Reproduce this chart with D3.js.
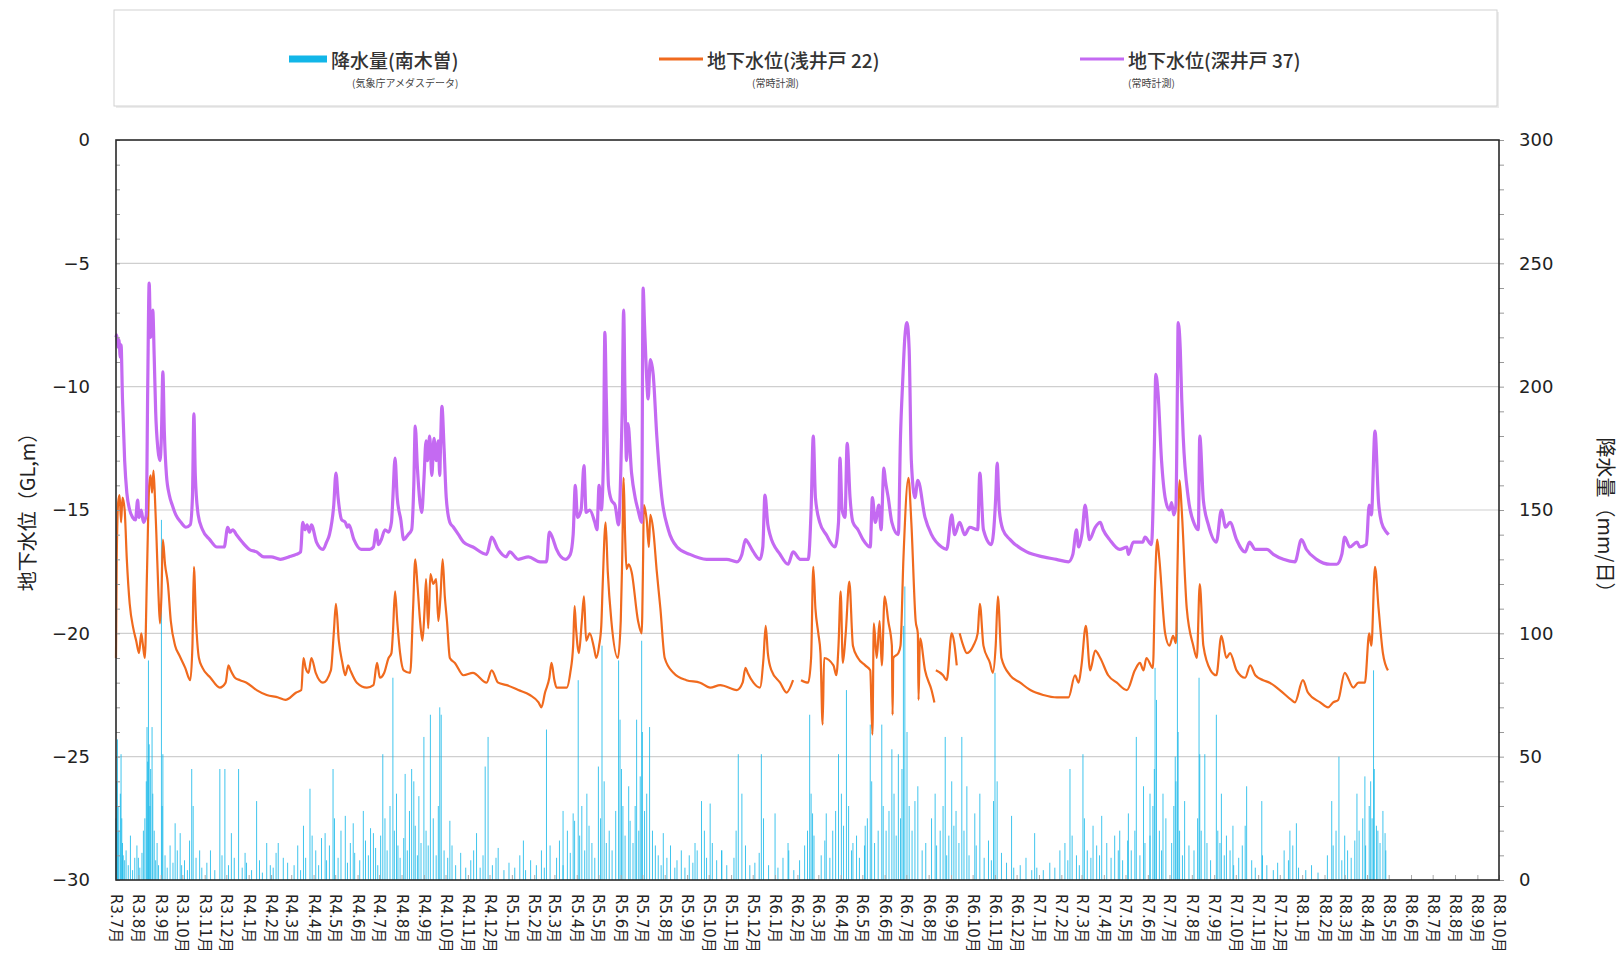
<!DOCTYPE html>
<html>
<head>
<meta charset="utf-8">
<script src="https://cdn.jsdelivr.net/npm/d3@7"></script>
<style>
  body { margin: 0; background: #ffffff; }
  svg { display: block; font-family: "DejaVu Sans", "Noto Sans CJK JP", sans-serif; }
</style>
</head>
<body>
<svg id="chart" width="1622" height="974"></svg>
<script>
// ---- data -----------------------------------------------------------
// Observation period: day 0 = 2021-07-01 (R3.7.1); axis runs to R8.10.1
const START = "2021-07-01";
const END = "2026-10-01";

// month tick labels (Reiwa era)
const monthLabels = [
  "R3.7月","R3.8月","R3.9月","R3.10月","R3.11月","R3.12月",
  "R4.1月","R4.2月","R4.3月","R4.4月","R4.5月","R4.6月","R4.7月","R4.8月","R4.9月","R4.10月","R4.11月","R4.12月",
  "R5.1月","R5.2月","R5.3月","R5.4月","R5.5月","R5.6月","R5.7月","R5.8月","R5.9月","R5.10月","R5.11月","R5.12月",
  "R6.1月","R6.2月","R6.3月","R6.4月","R6.5月","R6.6月","R6.7月","R6.8月","R6.9月","R6.10月","R6.11月","R6.12月",
  "R7.1月","R7.2月","R7.3月","R7.4月","R7.5月","R7.6月","R7.7月","R7.8月","R7.9月","R7.10月","R7.11月","R7.12月",
  "R8.1月","R8.2月","R8.3月","R8.4月","R8.5月","R8.6月","R8.7月","R8.8月","R8.9月","R8.10月"
];

const levelTicks = [0, -5, -10, -15, -20, -25, -30];
const levelTickLabels = ["0", "−5", "−10", "−15", "−20", "−25", "−30"];
const rainTicks = [0, 50, 100, 150, 200, 250, 300];

// groundwater level, deep well No.37 [day, GL m]
const deepWell37 = [
  [0,-8.0],[1,-7.9],[3,-8.4],[4,-8.1],[6,-8.8],[7,-8.3],[9,-10.5],[12,-13.0],[15,-14.3],[19,-15.0],[23,-15.3],[27,-15.4],
  [30,-14.6],[32,-15.3],[35,-15.0],[38,-15.5],[42,-15.2],[44,-10.0],[46,-5.8],[48,-8.0],[50,-7.3],[51,-6.9],[53,-8.8],
  [55,-11.0],[58,-12.5],[61,-13.0],[63,-12.0],[65,-9.4],[67,-11.8],[70,-13.6],[74,-14.4],[78,-14.8],[83,-15.2],[90,-15.5],
  [97,-15.7],[103,-15.6],[106,-14.5],[108,-11.1],[110,-13.6],[114,-15.2],[120,-15.8],[130,-16.2],[140,-16.5],[150,-16.5],
  [155,-15.7],[158,-15.9],[162,-15.8],[167,-16.0],[175,-16.3],[185,-16.6],[195,-16.7],[205,-16.9],[215,-16.9],[228,-17.0],
  [240,-16.9],[250,-16.8],[256,-16.7],[259,-15.5],[262,-15.8],[265,-15.6],[268,-15.9],[271,-15.6],[278,-16.3],[287,-16.6],
  [292,-16.3],[296,-16.0],[302,-14.8],[305,-13.5],[308,-14.5],[313,-15.4],[318,-15.5],[321,-15.7],[323,-15.6],[330,-16.2],
  [340,-16.6],[352,-16.6],[357,-16.5],[361,-15.8],[364,-16.4],[368,-16.2],[373,-15.8],[378,-15.9],[382,-15.5],[384,-14.5],
  [387,-12.9],[390,-14.5],[395,-15.4],[399,-16.2],[405,-16.0],[410,-15.8],[413,-14.0],[415,-11.6],[418,-13.3],[422,-14.8],
  [424,-15.1],[427,-13.8],[430,-12.2],[432,-13.0],[435,-12.0],[438,-13.6],[441,-12.1],[444,-13.0],[447,-12.2],[449,-13.6],
  [450,-12.5],[452,-10.8],[455,-12.5],[458,-14.5],[463,-15.5],[468,-15.7],[475,-16.0],[482,-16.3],[495,-16.5],[514,-16.8],
  [521,-16.1],[530,-16.6],[541,-16.9],[546,-16.7],[558,-17.0],[572,-16.9],[588,-17.1],[597,-17.1],[601,-15.9],[605,-16.1],
  [611,-16.6],[623,-17.0],[630,-16.8],[634,-16.0],[637,-14.0],[640,-15.3],[645,-15.0],[649,-13.2],[652,-15.1],[657,-15.0],
  [664,-15.5],[667,-15.8],[670,-14.0],[673,-15.0],[676,-13.0],[678,-7.8],[680,-10.5],[683,-14.0],[687,-14.6],[692,-14.8],
  [697,-15.6],[700,-13.5],[702,-11.0],[704,-6.9],[706,-10.5],[708,-13.0],[710,-11.5],[715,-13.5],[720,-14.5],[724,-15.0],
  [729,-15.5],[731,-6.0],[733,-7.5],[735,-9.0],[738,-10.5],[741,-8.9],[745,-9.5],[750,-12.0],[757,-14.5],[766,-15.8],
  [778,-16.5],[796,-16.8],[819,-17.0],[847,-17.0],[861,-17.1],[868,-16.8],[873,-16.2],[876,-16.3],[884,-16.7],[893,-17.0],
  [897,-16.5],[900,-14.4],[904,-15.6],[907,-16.0],[921,-16.8],[932,-17.2],[939,-16.7],[949,-17.0],[960,-17.0],[964,-15.0],
  [967,-12.0],[970,-14.5],[976,-15.5],[985,-16.0],[997,-16.5],[1002,-15.5],[1004,-12.9],[1007,-15.0],[1011,-15.3],
  [1014,-12.3],[1018,-14.5],[1022,-15.5],[1029,-15.8],[1036,-16.2],[1046,-16.5],[1049,-14.5],[1053,-15.5],[1058,-14.8],
  [1061,-15.8],[1065,-13.3],[1067,-13.8],[1071,-14.5],[1076,-15.5],[1085,-16.0],[1088,-12.0],[1091,-9.8],[1094,-8.0],
  [1097,-7.4],[1100,-8.5],[1103,-13.0],[1108,-14.5],[1112,-13.8],[1122,-15.3],[1131,-16.0],[1145,-16.5],[1152,-16.6],
  [1159,-15.2],[1163,-16.0],[1170,-15.5],[1177,-16.0],[1184,-15.7],[1195,-15.8],[1198,-13.5],[1203,-15.8],[1214,-16.4],
  [1220,-14.5],[1222,-13.1],[1225,-15.0],[1230,-15.8],[1240,-16.2],[1263,-16.7],[1286,-16.9],[1304,-17.0],[1321,-17.1],
  [1327,-16.8],[1332,-15.8],[1335,-16.5],[1340,-15.9],[1344,-14.8],[1350,-16.2],[1358,-15.7],[1365,-15.5],[1369,-15.8],
  [1378,-16.2],[1392,-16.6],[1402,-16.5],[1404,-16.8],[1411,-16.3],[1424,-16.3],[1427,-16.1],[1436,-16.4],[1440,-12.5],
  [1442,-9.5],[1445,-10.2],[1450,-13.0],[1455,-14.5],[1461,-15.0],[1464,-14.7],[1467,-15.2],[1470,-14.8],[1472,-10.0],
  [1473,-7.4],[1476,-8.5],[1478,-10.5],[1480,-12.0],[1487,-14.5],[1496,-15.6],[1501,-15.8],[1503,-12.0],[1508,-14.6],
  [1515,-15.6],[1526,-16.3],[1533,-15.0],[1539,-15.7],[1545,-15.5],[1554,-16.2],[1566,-16.7],[1572,-16.3],[1580,-16.6],
  [1596,-16.6],[1605,-16.8],[1619,-17.0],[1635,-17.1],[1644,-16.2],[1651,-16.6],[1665,-17.0],[1684,-17.2],[1693,-17.2],
  [1700,-16.8],[1704,-16.1],[1711,-16.5],[1721,-16.3],[1725,-16.5],[1734,-16.4],[1738,-14.8],[1741,-15.2],[1746,-11.8],
  [1751,-14.7],[1755,-15.5],[1762,-15.9],[1765,-16.0]
];

// groundwater level, shallow well No.22 [day, GL m]; null = missing record
const shallowWell22 = [
  [0,-21.0],[1,-17.0],[3,-14.7],[5,-14.4],[7,-15.5],[9,-14.5],[12,-15.0],[15,-17.0],[19,-18.8],[24,-19.8],[28,-20.3],
  [32,-20.8],[35,-20.0],[37,-20.4],[40,-21.0],[43,-17.5],[46,-14.0],[48,-13.6],[50,-14.3],[52,-13.4],[54,-14.5],[56,-16.0],
  [59,-18.5],[61,-19.6],[63,-18.5],[65,-16.2],[68,-17.2],[72,-18.0],[76,-19.5],[82,-20.5],[88,-20.9],[96,-21.4],[103,-21.9],
  [106,-20.5],[108,-17.3],[111,-19.5],[115,-21.0],[120,-21.4],[131,-21.8],[144,-22.2],[152,-22.0],[156,-21.3],[159,-21.5],
  [165,-21.8],[172,-21.9],[181,-22.0],[195,-22.3],[209,-22.5],[225,-22.6],[235,-22.7],[250,-22.4],[257,-22.3],[260,-21.0],
  [263,-21.4],[267,-21.6],[271,-21.0],[277,-21.6],[287,-22.0],[298,-21.5],[302,-20.0],[305,-18.8],[309,-20.3],[314,-21.2],
  [318,-21.7],[322,-21.3],[325,-21.5],[334,-22.0],[348,-22.2],[357,-22.1],[362,-21.2],[366,-21.8],[372,-21.6],[378,-21.0],
  [382,-20.8],[384,-20.0],[387,-18.3],[390,-19.5],[394,-20.8],[399,-21.5],[408,-21.6],[412,-19.0],[415,-17.0],[418,-18.0],
  [422,-19.6],[425,-20.3],[428,-19.0],[430,-17.8],[433,-19.8],[436,-17.6],[440,-18.0],[444,-17.8],[447,-19.5],[450,-18.5],
  [453,-17.0],[456,-18.5],[459,-19.5],[463,-21.0],[470,-21.2],[482,-21.7],[495,-21.6],[514,-22.0],[521,-21.5],[530,-22.0],
  [542,-22.1],[558,-22.3],[574,-22.5],[586,-22.8],[590,-23.0],[595,-22.4],[601,-21.8],[604,-21.2],[608,-21.9],[611,-22.2],
  [625,-22.2],[630,-21.6],[634,-20.5],[636,-18.9],[638,-19.8],[642,-20.8],[646,-19.5],[649,-18.5],[652,-20.3],[657,-20.0],
  [663,-20.6],[666,-21.0],[670,-20.5],[673,-19.7],[675,-18.0],[679,-15.5],[682,-17.5],[687,-19.5],[696,-21.0],[700,-19.5],
  [702,-17.0],[704,-13.7],[706,-16.0],[708,-17.4],[711,-17.2],[715,-17.5],[724,-19.5],[729,-20.0],[731,-17.0],[732,-14.8],
  [734,-15.0],[736,-15.4],[739,-16.5],[741,-15.2],[745,-15.8],[750,-17.5],[755,-19.0],[761,-21.0],[773,-21.6],[791,-21.9],
  [810,-22.0],[824,-22.2],[838,-22.1],[861,-22.3],[869,-22.0],[873,-21.4],[876,-21.6],[884,-22.0],[893,-22.2],[898,-21.0],
  [901,-19.7],[904,-20.8],[909,-21.5],[921,-22.0],[930,-22.4],[939,-21.9],[944,null],[950,-21.9],[960,-22.0],[964,-21.0],
  [967,-17.3],[970,-19.0],[974,-20.0],[977,-20.8],[980,-23.7],[982,-21.0],[995,-21.3],[999,-21.7],[1002,-20.5],[1005,-18.3],
  [1008,-21.2],[1012,-20.0],[1017,-17.9],[1022,-20.5],[1029,-21.0],[1039,-21.3],[1046,-21.5],[1049,-24.1],[1051,-19.6],
  [1055,-21.0],[1059,-19.5],[1062,-21.3],[1066,-18.5],[1071,-19.5],[1076,-20.5],[1077,-23.3],[1078,-21.0],[1085,-20.8],
  [1088,-20.5],[1092,-17.0],[1099,-13.7],[1103,-15.5],[1109,-19.5],[1112,-20.0],[1113,-22.7],[1115,-20.2],[1122,-21.5],
  [1131,-22.3],[1135,-22.8],[1136,null],[1137,-21.5],[1147,-21.7],[1152,-21.9],[1159,-20.0],[1162,-20.3],[1166,-21.3],
  [1168,null],[1170,-20.0],[1175,-20.5],[1180,-20.8],[1189,-20.5],[1195,-20.0],[1198,-18.8],[1203,-20.5],[1212,-21.2],
  [1216,-21.6],[1220,-20.5],[1223,-18.5],[1228,-21.0],[1240,-21.7],[1254,-22.0],[1268,-22.3],[1286,-22.5],[1305,-22.6],
  [1321,-22.6],[1330,-21.7],[1335,-22.0],[1339,-21.3],[1345,-19.7],[1351,-21.5],[1358,-20.7],[1365,-21.0],[1376,-21.7],
  [1388,-22.0],[1402,-22.3],[1413,-21.5],[1420,-21.2],[1425,-21.5],[1429,-21.0],[1438,-21.4],[1441,-18.0],[1444,-16.2],
  [1447,-17.0],[1455,-20.0],[1461,-20.5],[1466,-20.1],[1470,-20.4],[1472,-17.5],[1475,-13.8],[1478,-15.0],[1485,-19.0],
  [1494,-20.5],[1499,-21.0],[1503,-18.0],[1508,-20.5],[1518,-21.5],[1526,-21.7],[1533,-20.1],[1540,-21.0],[1545,-20.8],
  [1554,-21.5],[1566,-21.8],[1573,-21.3],[1580,-21.7],[1591,-21.9],[1600,-22.0],[1614,-22.3],[1630,-22.7],[1635,-22.8],
  [1646,-21.9],[1653,-22.4],[1670,-22.8],[1681,-23.0],[1688,-22.8],[1695,-22.7],[1704,-21.6],[1716,-22.2],[1723,-22.0],
  [1732,-22.0],[1738,-20.0],[1741,-20.5],[1746,-17.3],[1751,-19.0],[1757,-20.8],[1764,-21.5]
];

// daily rainfall at Nagiso (AMeDAS), larger events [day, mm/day]
const rainMajor = [
  [0,25],[1,40],[2,57],[3,30],[4,20],[6,35],[7,51],[8,25],[9,15],[10,10],[12,8],[31,9],[38,20],[40,25],[42,40],[43,62],
  [44,48],[45,89],[46,55],[47,30],[48,45],[50,62],[51,35],[53,20],[63,146],[64,30],[65,51],[82,23],[89,19],[105,45],
  [107,30],[116,12],[144,45],[151,45],[160,19],[170,45],[181,7],[195,32],[209,15],[225,15],[232,9],[260,22],[269,37],
  [290,19],[301,45],[303,25],[318,26],[329,23],[343,28],[357,19],[370,51],[384,82],[389,35],[401,43],[410,45],[413,40],
  [420,34],[427,58],[436,67],[449,70],[451,67],[463,24],[500,19],[512,46],[516,58],[530,13],[565,16],[597,61],[620,28],
  [634,27],[641,81],[653,35],[669,46],[674,95],[697,89],[699,65],[711,38],[722,65],[729,97],[730,60],[740,62],[759,19],
  [775,5],[803,15],[812,32],[824,31],[840,12],[863,51],[868,35],[895,51],[914,27],[932,15],[962,67],[966,27],[985,27],
  [1002,51],[1006,35],[1013,77],[1022,15],[1039,22],[1046,63],[1062,63],[1076,53],[1085,51],[1092,103],[1094,119],
  [1108,32],[1136,35],[1150,58],[1159,40],[1173,58],[1180,38],[1191,27],[1217,32],[1219,84],[1242,26],[1274,19],
  [1309,12],[1316,15],[1323,45],[1341,51],[1355,22],[1367,26],[1392,20],[1404,27],[1415,58],[1425,38],[1434,35],
  [1441,86],[1443,73],[1452,35],[1469,50],[1472,120],[1473,60],[1482,32],[1502,82],[1503,51],[1510,51],[1526,67],
  [1533,35],[1540,18],[1549,22],[1568,38],[1589,32],[1628,20],[1637,23],[1686,32],[1696,50],[1704,18],[1721,35],
  [1732,42],[1744,85],[1748,22],[1760,19]
];

// daily rainfall, smaller events [day, mm/day]
const rainMinor = [
  [14,12],[17,6],[20,18],[23,4],[26,9],[29,14],[33,5],[36,11],[55,8],[57,15],[59,6],[68,10],[71,5],[75,14],[79,7],[85,12],
  [91,6],[95,8],[99,4],[102,16],[111,9],[119,5],[126,7],[131,12],[137,4],[147,10],[156,6],[164,9],[175,5],[179,11],
  [188,4],[199,8],[203,3],[214,6],[218,5],[222,11],[238,7],[247,6],[252,14],[256,4],[263,9],[272,18],[277,12],[281,6],
  [285,17],[292,8],[296,14],[308,9],[312,20],[321,7],[325,15],[331,11],[338,8],[346,16],[350,10],[353,21],[360,13],
  [363,6],[367,18],[373,25],[376,12],[380,30],[386,20],[391,14],[394,9],[399,17],[404,12],[407,28],[415,22],[418,10],
  [423,15],[430,20],[433,14],[440,25],[444,10],[447,30],[455,12],[460,9],[466,14],[471,6],[478,11],[485,5],[492,8],
  [496,12],[505,5],[509,10],[522,6],[527,9],[538,4],[545,7],[553,5],[560,10],[568,4],[575,8],[583,6],[590,12],[594,5],
  [602,14],[611,9],[615,16],[620,6],[626,20],[630,11],[636,24],[643,18],[646,30],[650,12],[656,22],[660,15],[664,9],
  [672,25],[677,40],[680,15],[684,20],[688,12],[693,28],[701,45],[703,30],[706,18],[713,24],[717,15],[720,30],[725,20],
  [727,42],[733,28],[736,35],[744,20],[748,14],[752,10],[756,6],[764,9],[769,14],[778,8],[784,12],[789,5],[795,10],
  [800,7],[806,12],[816,20],[819,9],[827,15],[833,8],[840,12],[847,6],[857,9],[860,20],[873,14],[879,6],[886,7],[892,11],
  [898,25],[905,6],[918,5],[925,9],[933,12],[940,4],[948,8],[955,14],[959,20],[964,35],[968,18],[978,10],[983,16],
  [990,9],[994,20],[998,28],[1009,22],[1016,30],[1020,12],[1027,18],[1031,9],[1038,14],[1042,25],[1048,40],[1052,15],
  [1057,20],[1064,30],[1068,20],[1072,28],[1079,35],[1082,18],[1088,25],[1090,45],[1097,60],[1100,30],[1104,20],
  [1112,38],[1118,12],[1123,15],[1131,25],[1138,14],[1143,20],[1147,30],[1152,10],[1155,18],[1162,22],[1165,28],
  [1169,15],[1176,20],[1183,10],[1193,14],[1198,35],[1204,9],[1210,16],[1214,8],[1222,40],[1228,11],[1235,7],[1245,5],
  [1254,6],[1262,9],[1270,4],[1277,5],[1286,4],[1295,7],[1302,5],[1320,8],[1326,18],[1332,10],[1336,6],[1343,25],
  [1347,12],[1352,9],[1360,14],[1364,10],[1374,15],[1380,9],[1385,18],[1390,12],[1396,8],[1403,16],[1408,12],[1413,20],
  [1420,10],[1427,15],[1434,18],[1438,30],[1440,45],[1447,20],[1450,12],[1456,25],[1464,15],[1467,30],[1470,40],
  [1475,20],[1479,10],[1488,14],[1495,12],[1500,25],[1505,20],[1513,15],[1518,8],[1528,20],[1531,15],[1537,10],
  [1545,12],[1550,6],[1557,9],[1562,14],[1566,22],[1575,8],[1580,5],[1590,10],[1596,6],[1605,4],[1611,7],[1620,12],
  [1626,8],[1632,14],[1640,5],[1650,4],[1658,6],[1667,3],[1680,10],[1688,14],[1692,20],[1700,8],[1708,12],[1713,9],
  [1718,16],[1724,20],[1729,25],[1733,14],[1738,30],[1740,40],[1742,25],[1745,45],[1750,20],[1753,15],[1757,28],[1761,12]
];

// ---- layout -----------------------------------------------------------
const plot = { left: 116, right: 1499, top: 140, bottom: 880 };
const colors = { rain: "#12b6e8", shallow: "#f06a1e", deep: "#c46af2", grid: "#cfcfcf", axis: "#2a2a2a", text: "#222" };

const svg = d3.select("#chart");
const parse = d3.timeParse("%Y-%m-%d");
const t0 = parse(START), t1 = parse(END);
const dayDate = d => d3.timeDay.offset(t0, d);

const x = d3.scaleTime().domain([t0, t1]).range([plot.left, plot.right]);
const yL = d3.scaleLinear().domain([-30, 0]).range([plot.bottom, plot.top]);
const yR = d3.scaleLinear().domain([0, 300]).range([plot.bottom, plot.top]);

// ---- legend box -----------------------------------------------------------
const lg = svg.append("g");
lg.append("rect").attr("x", 116).attr("y", 12).attr("width", 1383).attr("height", 96)
  .attr("fill", "#ececec");
lg.append("rect").attr("x", 114).attr("y", 10).attr("width", 1383).attr("height", 96)
  .attr("fill", "#fff").attr("stroke", "#d2d2d2").attr("stroke-width", 1);

const legendItems = [
  { label: "降水量(南木曽)", sub: "(気象庁アメダスデータ)", color: colors.rain, sx: 289, sw: 38, thick: 7, tx: 331, subx: 352 },
  { label: "地下水位(浅井戸 22)", sub: "(常時計測)", color: colors.shallow, sx: 659, sw: 44, thick: 3, tx: 707, subx: 752 },
  { label: "地下水位(深井戸 37)", sub: "(常時計測)", color: colors.deep, sx: 1080, sw: 44, thick: 3, tx: 1128, subx: 1128 }
];
legendItems.forEach(it => {
  lg.append("rect").attr("x", it.sx).attr("y", 59 - it.thick / 2).attr("width", it.sw).attr("height", it.thick)
    .attr("fill", it.color);
  lg.append("text").attr("x", it.tx).attr("y", 59).attr("dominant-baseline", "central")
    .attr("font-family", "'Noto Sans CJK JP', sans-serif").attr("font-size", 19).attr("font-weight", 500)
    .attr("fill", "#333").text(it.label);
  lg.append("text").attr("x", it.subx).attr("y", 82).attr("dominant-baseline", "central")
    .attr("font-family", "'Noto Sans CJK JP', sans-serif").attr("font-size", 10)
    .attr("fill", "#444").text(it.sub);
});

// ---- gridlines -----------------------------------------------------------
svg.append("g").selectAll("line").data(levelTicks.filter(v => v > -30 && v < 0)).join("line")
  .attr("x1", plot.left).attr("x2", plot.right)
  .attr("y1", d => yL(d)).attr("y2", d => yL(d))
  .attr("stroke", colors.grid).attr("stroke-width", 1.2);

// ---- rainfall bars -----------------------------------------------------------
const rainAll = rainMinor.concat(rainMajor);
svg.append("g").selectAll("rect").data(rainAll).join("rect")
  .attr("x", d => x(dayDate(d[0])) - 0.5)
  .attr("width", 1)
  .attr("y", d => yR(d[1]))
  .attr("height", d => yR(0) - yR(d[1]))
  .attr("fill", colors.rain).attr("opacity", 0.8);

// ---- groundwater lines -----------------------------------------------------------
const line = d3.line()
  .defined(d => d[1] !== null)
  .curve(d3.curveMonotoneX)
  .x(d => x(dayDate(d[0])))
  .y(d => yL(d[1]));

svg.append("path").datum(shallowWell22).attr("d", line)
  .attr("fill", "none").attr("stroke", colors.shallow).attr("stroke-width", 2.2)
  .attr("stroke-linejoin", "round");
svg.append("path").datum(deepWell37).attr("d", line)
  .attr("fill", "none").attr("stroke", colors.deep).attr("stroke-width", 3.2)
  .attr("stroke-linejoin", "round");

// ---- axes -----------------------------------------------------------
// left axis: groundwater level
const leftAxis = d3.axisLeft(yL).tickValues(levelTicks).tickSize(0).tickPadding(26)
  .tickFormat((d, i) => levelTickLabels[i]);
const gL = svg.append("g").attr("transform", `translate(${plot.left},0)`).call(leftAxis);
gL.select(".domain").remove();
gL.selectAll("text").attr("font-size", 18).attr("fill", colors.text).attr("font-family", "'DejaVu Sans', sans-serif");

// left minor ticks (inside), every 1 m
const leftMinor = d3.axisRight(yL).ticks(30).tickSize(4).tickFormat("");
const gLm = svg.append("g").attr("transform", `translate(${plot.left},0)`).call(leftMinor);
gLm.select(".domain").remove();
gLm.selectAll("line").attr("stroke", "#999");

// right axis: rainfall
const rightAxis = d3.axisRight(yR).tickValues(rainTicks).tickSize(0).tickPadding(20);
const gR = svg.append("g").attr("transform", `translate(${plot.right},0)`).call(rightAxis);
gR.select(".domain").remove();
gR.selectAll("text").attr("font-size", 18).attr("fill", colors.text).attr("font-family", "'DejaVu Sans', sans-serif");

const rightMinor = d3.axisRight(yR).ticks(30).tickSize(5).tickFormat("");
const gRm = svg.append("g").attr("transform", `translate(${plot.right},0)`).call(rightMinor);
gRm.select(".domain").remove();
gRm.selectAll("line").attr("stroke", "#999");

// bottom axis: months
const months = d3.timeMonth.range(t0, d3.timeMonth.offset(t1, 1));
const bottomAxis = d3.axisBottom(x).tickValues(months).tickSize(-5).tickFormat("");
const gB = svg.append("g").attr("transform", `translate(0,${plot.bottom})`).call(bottomAxis);
gB.select(".domain").remove();
gB.selectAll("line").attr("stroke", "#aaa");

svg.append("g").selectAll("text").data(months).join("text")
  .attr("transform", d => `translate(${x(d)},${plot.bottom + 14}) rotate(90)`)
  .attr("text-anchor", "start").attr("dominant-baseline", "central")
  .attr("font-size", 15).attr("fill", colors.text)
  .text((d, i) => monthLabels[i]);

// plot frame
svg.append("rect").attr("x", plot.left).attr("y", plot.top)
  .attr("width", plot.right - plot.left).attr("height", plot.bottom - plot.top)
  .attr("fill", "none").attr("stroke", colors.axis).attr("stroke-width", 1.6);

// axis titles
svg.append("text").attr("transform", `translate(26,507) rotate(-90)`)
  .attr("text-anchor", "middle").attr("dominant-baseline", "central")
  .attr("font-family", "'Noto Sans CJK JP', sans-serif").attr("font-size", 20).attr("fill", colors.text)
  .text("地下水位（GL,m）");
svg.append("text").attr("transform", `translate(1606,520) rotate(90)`)
  .attr("text-anchor", "middle").attr("dominant-baseline", "central")
  .attr("font-family", "'Noto Sans CJK JP', sans-serif").attr("font-size", 20).attr("fill", colors.text)
  .text("降水量（mm/日）");
</script>
</body>
</html>
